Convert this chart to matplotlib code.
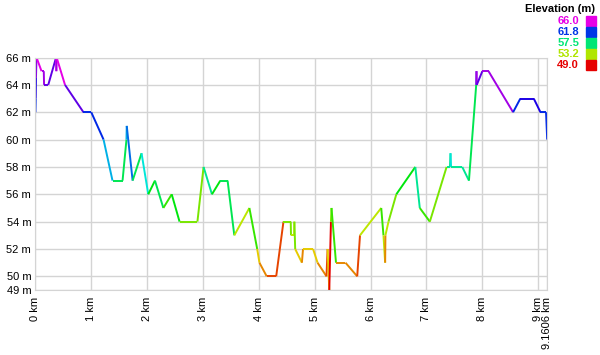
import numpy as np
import matplotlib
matplotlib.use("Agg")
import matplotlib.pyplot as plt
from matplotlib.collections import LineCollection
from matplotlib.colors import ListedColormap, Normalize, hsv_to_rgb

# distance (km) and elevation (m)
dist_km = [0.0, 0.005, 0.01, 0.02, 0.11, 0.15, 0.155, 0.23, 0.37, 0.375, 0.38, 0.53,
           0.86, 1.0, 1.22, 1.38, 1.56, 1.63, 1.635, 1.74, 1.90, 2.02, 2.14, 2.29,
           2.44, 2.58, 2.90, 3.01, 3.16, 3.31, 3.44, 3.56, 3.83, 3.97, 4.01, 4.14,
           4.31, 4.44, 4.57, 4.575, 4.63, 4.635, 4.65, 4.77, 4.79, 4.97, 5.05, 5.21,
           5.23, 5.26, 5.29, 5.30, 5.38, 5.55, 5.76, 5.81, 6.19, 6.23, 6.26, 6.265,
           6.32, 6.46, 6.80, 6.88, 7.06, 7.36, 7.42, 7.43, 7.44, 7.64, 7.76, 7.89,
           7.895, 7.90, 8.0, 8.11, 8.55, 8.68, 8.92, 9.04, 9.14, 9.1606]
elev_m = [62, 63, 64.5, 66, 65, 65, 64, 64, 66, 65, 66, 64,
          62, 62, 60, 57, 57, 60, 61, 57, 59, 56, 57, 55,
          56, 54, 54, 58, 56, 57, 57, 53, 55, 52, 51, 50,
          50, 54, 54, 53, 53, 54, 52, 51, 52, 52, 51, 50,
          52, 49, 54, 55, 51, 51, 50, 53, 55, 53, 51, 53,
          54, 56, 58, 55, 54, 58, 58, 59, 58, 58, 57, 64,
          65, 64, 65, 65, 62, 63, 63, 62, 62, 60]

y_ticks = [49, 50, 52, 54, 56, 58, 60, 62, 64, 66]
x_ticks = [0, 1, 2, 3, 4, 5, 6, 7, 8, 9, 9.1606]
x_labels = ["0 km", "1 km", "2 km", "3 km", "4 km", "5 km", "6 km", "7 km", "8 km", "9 km", "9.1606 km"]
legend_vals = [66.0, 61.8, 57.5, 53.2, 49.0]

e_min, e_max = 49.0, 66.0

# red -> yellow -> green -> blue -> magenta
hues = np.linspace(0, 300 / 360, 256)
cmap = ListedColormap(hsv_to_rgb(np.column_stack([hues, np.ones(256), np.full(256, 0.9)])))
norm = Normalize(e_min, e_max)

plt.rcParams["font.family"] = ["Liberation Sans", "DejaVu Sans"]
fig = plt.figure(figsize=(6, 3.55), dpi=100)
ax = fig.add_axes([0.059, 0.183, 0.853, 0.655])

pts = np.column_stack([dist_km, elev_m])
segs = np.stack([pts[:-1], pts[1:]], axis=1)
lc = LineCollection(segs, cmap=cmap, norm=norm, linewidths=1.4, capstyle="butt")
lc.set_array(np.array(elev_m[:-1], dtype=float))
ax.add_collection(lc)

ax.set_xlim(0, dist_km[-1])
ax.set_ylim(e_min, e_max)
ax.set_yticks(y_ticks)
ax.set_yticklabels([f"{v} m" for v in y_ticks])
ax.set_xticks(x_ticks)
ax.set_xticklabels(x_labels, rotation=90)
ax.tick_params(length=0, labelsize=8)
ax.tick_params(axis="x", pad=5)
ax.tick_params(axis="y", pad=3)
ax.grid(True, color="#d4d4d4", lw=1)
for s in ax.spines.values():
    s.set_color("#d4d4d4")

fig.text(0.992, 0.975, "Elevation (m)", ha="right", va="center", fontsize=8, fontweight="bold")
for i, v in enumerate(legend_vals):
    y = 0.941 - i * 0.031
    c = cmap(norm(v))
    fig.text(0.965, y, f"{v:.1f}", ha="right", va="center", fontsize=8, color=c, fontweight="bold")
    fig.patches.append(plt.Rectangle((0.977, y - 0.014), 0.016, 0.027, transform=fig.transFigure,
                                     color=c, figure=fig))

fig.savefig("out.png", dpi=100)
